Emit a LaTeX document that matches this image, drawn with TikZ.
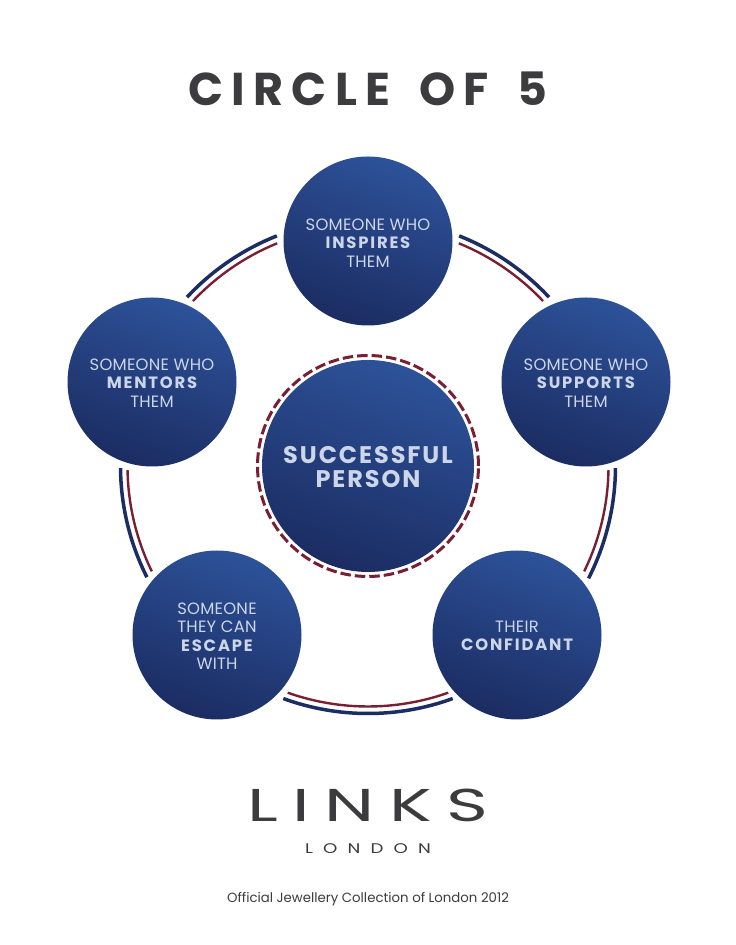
\documentclass[tikz,border=0pt]{standalone}
\usepackage{fontspec}
\setmainfont{Poppins}
\newfontfamily\widefont[LetterSpace=8]{Poppins}
\newfontfamily\tightfont[LetterSpace=1.5]{Poppins}
\definecolor{navyline}{HTML}{1C2D64}
\definecolor{redline}{HTML}{7A1F33}
\definecolor{bluetop}{HTML}{2D5299}
\definecolor{bluebot}{HTML}{1B2C62}
\definecolor{softtext}{HTML}{CDD5E9}
\definecolor{greytext}{HTML}{3C3C3E}
\tikzset{
	friend/.style={circle,minimum size=169pt,inner sep=0pt,top color=bluetop,bottom color=bluebot,shading angle=-20},
	hero/.style={friend,minimum size=212pt},
	friendtext/.style={text=softtext,align=center,inner sep=0pt,font=\fontsize{16.4}{18.5}\selectfont\tightfont},
	herotext/.style={friendtext,font=\fontsize{24}{24.5}\selectfont\widefont\bfseries},
	brand/.style={text=greytext,inner sep=0pt}
}
\newcommand{\keyword}[1]{{\bfseries\addfontfeatures{LetterSpace=11}#1}}
\begin{document}
\begin{tikzpicture}[x=1pt,y=1pt]
	\useasboundingbox (0,0) rectangle (736,945);
	\fill[white] (0,0) rectangle (736,945);
	\coordinate (ring) at (368,479);
	% outer ring pieces
	\foreach \a/\b in {68.4/43,111.6/137,180.5/206.7,250/290,333/359.5}
		\draw[navyline,line width=3.5pt] ([shift={(\a:247.5)}]ring) arc[start angle=\a,end angle=\b,radius=247.5];
	\foreach \a/\b in {67.8/43.3,112.2/136.7,181/206,250.5/289.5,334/359}
		\draw[redline,line width=2.4pt] ([shift={(\a:240.5)}]ring) arc[start angle=\a,end angle=\b,radius=240.5];
	\draw[redline,line width=3pt,dash pattern=on 10.5pt off 4pt] (ring) circle (110.5);
	\node[hero] (person) at (ring) {};
	\node[friend] (inspires) at (368,704) {};
	\node[friend] (supports) at (586,563) {};
	\node[friend] (confidant) at (517,310) {};
	\node[friend] (escape) at (217,310) {};
	\node[friend] (mentors) at (152,563) {};
	% labels sit a little below the middle of each circle
	\node[herotext] (persontext) at ([yshift=-1pt]person) {SUCCESSFUL\\PERSON};
	\node[friendtext] (inspirestext) at ([yshift=-2pt]inspires) {SOMEONE WHO\\\keyword{INSPIRES}\\THEM};
	\node[friendtext] (supportstext) at ([yshift=-1pt]supports) {SOMEONE WHO\\\keyword{SUPPORTS}\\THEM};
	\node[friendtext] (confidanttext) at ([yshift=-1pt]confidant) {THEIR\\\keyword{CONFIDANT}};
	\node[friendtext] (escapetext) at ([yshift=-1pt]escape) {SOMEONE\\THEY CAN\\\keyword{ESCAPE}\\WITH};
	\node[friendtext] (mentorstext) at ([yshift=-1pt]mentors) {SOMEONE WHO\\\keyword{MENTORS}\\THEM};
	\node[brand,font=\fontsize{46}{46}\selectfont\bfseries\addfontfeatures{LetterSpace=18}] (title) at (368,856) {CIRCLE\hspace{11pt} OF\hspace{11pt} 5};
	\node[brand,font=\fontsize{46}{46}\selectfont\addfontfeatures{LetterSpace=20}] (links) at (368,140) {\scalebox{1.55}[1]{LINKS}};
	\node[brand,font=\fontsize{14}{14}\selectfont\addfontfeatures{LetterSpace=56}] (london) at (368,96) {\scalebox{1.3}[1]{LONDON}};
	\node[brand,font=\fontsize{13.3}{13.3}\selectfont] (official) at (368,46) {Official Jewellery Collection of London 2012};
\end{tikzpicture}
\end{document}
